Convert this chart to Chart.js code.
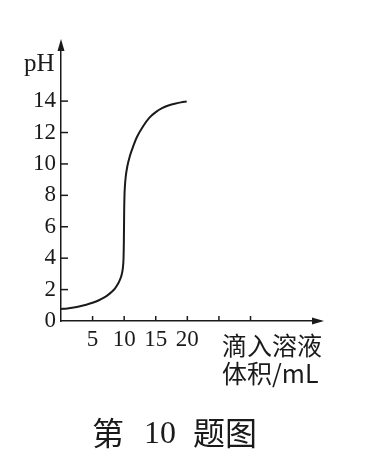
<!DOCTYPE html>
<html><head><meta charset="utf-8">
<script src="https://cdn.jsdelivr.net/npm/chart.js@4/dist/chart.umd.min.js"></script>
<style>html,body{margin:0;padding:0;background:#fff}#wrap{width:371px;height:459px}</style>
</head><body><div id="wrap"><canvas id="c" width="371" height="459"></canvas></div>
<script>
const volume = [0, 1, 2, 3, 4, 5, 6, 7, 7.5, 8, 8.5, 9, 9.3, 9.6, 9.8, 9.9, 9.95, 10, 10.05, 10.12, 10.25, 10.5, 10.9, 11.5, 12, 13, 14, 15, 16, 17, 18, 19, 19.9];
const pH =     [0.76, 0.8, 0.86, 0.94, 1.04, 1.16, 1.32, 1.54, 1.68, 1.85, 2.05, 2.35, 2.6, 2.95, 3.4, 4.0, 5.0, 7.0, 8.0, 8.6, 9.2, 9.85, 10.5, 11.2, 11.7, 12.4, 12.95, 13.3, 13.55, 13.72, 13.83, 13.92, 13.97];
const yTicks = [0, 2, 4, 6, 8, 10, 12, 14];
const xTicks = [5, 10, 15, 20, 25, 30];
const xLabeled = [5, 10, 15, 20];
const yTitle = "pH";
const xTitle = ["滴入溶液", "体积/mL"];
const caption = ["第", "10", "题图"];

const ink = '#1a1a1a';
const serif = "'Liberation Serif', 'DejaVu Serif', serif";

const decor = {
  id: 'decor',
  afterDraw(chart) {
    const {ctx, chartArea: a, scales: {x, y}} = chart;
    ctx.save();
    ctx.strokeStyle = ink; ctx.fillStyle = ink; ctx.lineWidth = 1.5;
    yTicks.forEach(v => { if (v === 0) return; const p = y.getPixelForValue(v); ctx.beginPath(); ctx.moveTo(a.left, p); ctx.lineTo(a.left + 7, p); ctx.stroke(); });
    xTicks.forEach(v => { const p = x.getPixelForValue(v); ctx.beginPath(); ctx.moveTo(p, a.bottom); ctx.lineTo(p, a.bottom - 5); ctx.stroke(); });
    ctx.beginPath(); ctx.moveTo(a.left, a.top - 4); ctx.lineTo(a.left - 3.5, a.top + 8); ctx.lineTo(a.left + 3.5, a.top + 8); ctx.closePath(); ctx.fill();
    ctx.beginPath(); ctx.moveTo(a.right + 4, a.bottom); ctx.lineTo(a.right - 8, a.bottom - 3.5); ctx.lineTo(a.right - 8, a.bottom + 3.5); ctx.closePath(); ctx.fill();
    ctx.textBaseline = 'middle';
    ctx.font = "25px " + serif; ctx.textAlign = 'left';
    ctx.fillText(yTitle, 24, 64);
    ctx.font = "25px 'Noto Sans CJK SC'"; ctx.textAlign = 'left';
    ctx.fillText(xTitle[0], 222, 345);
    ctx.fillText(xTitle[1], 222, 373);
    ctx.font = "32px 'Noto Sans CJK SC'"; ctx.textAlign = 'center';
    ctx.fillText(caption[0], 108, 433);
    ctx.font = "32px " + serif;
    ctx.fillText(caption[1], 160, 435);
    ctx.font = "32px 'Noto Sans CJK SC'";
    ctx.fillText(caption[2], 225, 433);
    ctx.restore();
  }
};

new Chart(document.getElementById('c'), {
  type: 'scatter',
  data: { datasets: [{ data: volume.map((v, i) => ({x: v, y: pH[i]})), showLine: true, borderColor: ink, borderWidth: 2, pointRadius: 0, cubicInterpolationMode: 'monotone', fill: false }] },
  options: {
    responsive: false, animation: false, events: [],
    layout: { padding: { top: 43, right: 51, left: 0, bottom: 0 } },
    plugins: { legend: { display: false }, tooltip: { enabled: false }, title: { display: false } },
    scales: {
      x: {
        type: 'linear', min: 0, max: 41,
        afterBuildTicks: s => { s.ticks = xTicks.map(v => ({value: v})); },
        afterFit: s => { s.height = 459 - 321; },
        grid: { display: false, drawTicks: false },
        border: { display: true, color: ink, width: 1.5 },
        ticks: { color: ink, padding: 5, maxRotation: 0, autoSkip: false, font: { family: serif, size: 23 },
          callback: v => xLabeled.includes(v) ? String(v) : '' }
      },
      y: {
        type: 'linear', min: 0, max: 17.7,
        afterBuildTicks: s => { s.ticks = yTicks.map(v => ({value: v})); },
        afterFit: s => { s.width = 61; },
        grid: { display: false, drawTicks: false },
        border: { display: true, color: ink, width: 1.5 },
        ticks: { color: ink, padding: 5, autoSkip: false, font: { family: serif, size: 23 }, callback: v => String(v) }
      }
    }
  },
  plugins: [decor]
});
</script></body></html>
